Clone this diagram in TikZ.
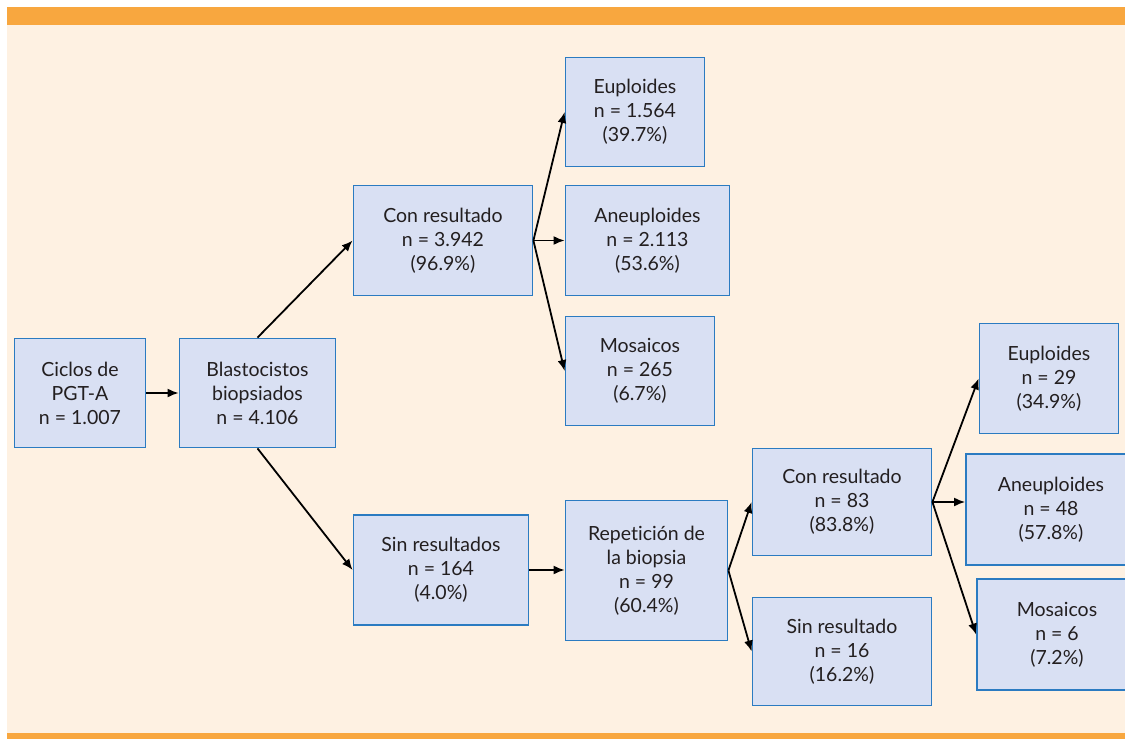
\documentclass[tikz,border=0pt]{standalone}
\usepackage{fontspec}
\setmainfont{Lato}[Ligatures=NoCommon]
\usetikzlibrary{arrows.meta}
\definecolor{bandorange}{HTML}{F8A73F}
\definecolor{cream}{HTML}{FEF1E2}
\definecolor{boxfill}{HTML}{D9E0F3}
\definecolor{boxline}{HTML}{2B7BC1}
\definecolor{ink}{HTML}{231F20}
\begin{document}
\begin{tikzpicture}[
  x=1pt, y=-1pt,
  stage/.style={draw=boxline, fill=boxfill, line width=1.8pt, align=center, inner sep=0pt,
    text=ink, font=\fontsize{19.5}{24}\selectfont},
  link/.style={line width=1.8pt, -{Latex[length=11pt,width=9pt]}}
]
\useasboundingbox (0,0) rectangle (1125,739);
% frame
\fill[cream] (7,25) rectangle (1125,733);
\fill[bandorange] (7,7) rectangle (1125,25);
\fill[bandorange] (7,733) rectangle (1125,739);
% first stages
\node[stage, minimum width=131, minimum height=109] (c0) at (80,393) {Ciclos de\\PGT-A\\n = 1.007};
\node[stage, minimum width=156, minimum height=109] (b0) at (257.5,393) {Blastocistos\\biopsiados\\n = 4.106};
\node[stage, minimum width=179, minimum height=110] (c1) at (443,240.5) {Con resultado\\n = 3.942\\(96.9\%)};
\node[stage, minimum width=175, minimum height=110] (s1) at (441,570) {Sin resultados\\n = 164\\(4.0\%)};
% top results
\node[stage, minimum width=139, minimum height=109] (e1) at (635,112) {Euploides\\n = 1.564\\(39.7\%)};
\node[stage, minimum width=164, minimum height=110] (a1) at (647.5,240.5) {Aneuploides\\n = 2.113\\(53.6\%)};
\node[stage, minimum width=149, minimum height=109] (m1) at (640,371) {Mosaicos\\n = 265\\(6.7\%)};
% repeated biopsy
\node[stage, minimum width=162, minimum height=140] (r0) at (646.5,570.5) {Repetición de\\la biopsia\\n = 99\\(60.4\%)};
\node[stage, minimum width=179, minimum height=107] (c2) at (842,502) {Con resultado\\n = 83\\(83.8\%)};
\node[stage, minimum width=179, minimum height=108] (s2) at (842,651.5) {Sin resultado\\n = 16\\(16.2\%)};
% bottom results
\node[stage, minimum width=139, minimum height=110] (e2) at (1049,378.5) {Euploides\\n = 29\\(34.9\%)};
\node[stage, minimum width=170, minimum height=111] (a2) at (1051,509.5) {Aneuploides\\n = 48\\(57.8\%)};
\node[stage, minimum width=160, minimum height=111] (m2) at (1057,634.5) {Mosaicos\\n = 6\\(7.2\%)};
% connectors
\draw[link] (c0) -- (b0);
\draw[link] (b0.north) -- (c1.west);
\draw[link] (b0.south) -- (s1.west);
\draw[link] (c1.east) -- (e1.west);
\draw[link] (c1.east) -- (a1.west);
\draw[link] (c1.east) -- (m1.west);
\draw[link] (s1.east) -- (s1.east -| r0.west);
\draw[link] (r0.east) -- (c2.west);
\draw[link] (r0.east) -- (s2.west);
\draw[link] (c2.east) -- (e2.west);
\draw[link] (c2.east) -- (c2.east -| a2.west);
\draw[link] (c2.east) -- (m2.west);
\end{tikzpicture}
\end{document}
